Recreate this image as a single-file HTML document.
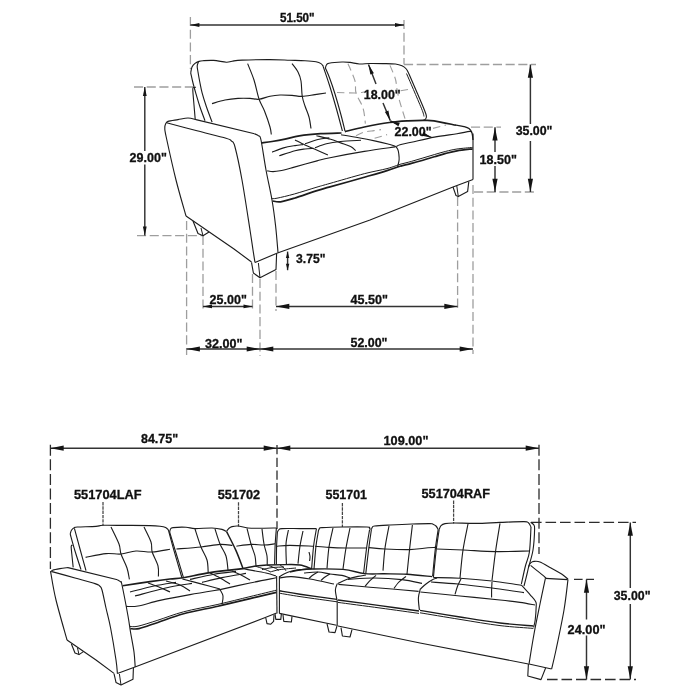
<!DOCTYPE html>
<html lang="en">
<head>
<meta charset="utf-8">
<title>Sectional sofa dimensions</title>
<style>
html,body{margin:0;padding:0;background:#fff;}
body{width:700px;height:700px;overflow:hidden;}
svg{display:block;filter:grayscale(1);}
svg path{fill:none;stroke-linecap:butt;stroke-linejoin:round;}
svg path.a{fill:#141414;stroke:none;}
svg text{font-family:"Liberation Sans",Arial,Helvetica,sans-serif;font-weight:700;fill:#101010;stroke:#101010;stroke-width:0.3px;}
</style>
</head>
<body>
<svg width="700" height="700" viewBox="0 0 700 700">
<rect width="700" height="700" fill="#ffffff"/>
<path d="M190.4 17L190.4 69" stroke="#9e9e9e" stroke-width="1.3" stroke-dasharray="9.1 3.6"/>
<path d="M404 20L404 64.5" stroke="#9e9e9e" stroke-width="1.3" stroke-dasharray="9.1 3.6"/>
<path d="M190.4 25L404 25" stroke="#333333" stroke-width="1.45"/>
<path class="a" d="M190.4 25L199.4 23.1L199.4 26.9Z"/>
<path class="a" d="M404 25L395 26.9L395 23.1Z"/>
<text transform="translate(279.95 22.2) scale(0.9804 1)" font-size="11.9">51.50&quot;</text>
<path d="M134 87L193 87" stroke="#9e9e9e" stroke-width="1.3" stroke-dasharray="9.1 3.6"/>
<path d="M137 235.6L204 235.6" stroke="#9e9e9e" stroke-width="1.3" stroke-dasharray="9.1 3.6"/>
<path d="M144.8 87L144.8 151M144.8 164.4L144.8 235.6" stroke="#333333" stroke-width="1.45"/>
<path class="a" d="M144.8 87L146.7 96L142.9 96Z"/>
<path class="a" d="M144.8 235.6L142.9 226.6L146.7 226.6Z"/>
<text transform="translate(129.62 161.8) scale(1.0246 1)" font-size="12.2">29.00&quot;</text>
<path d="M404 64.5L536 64.5" stroke="#9e9e9e" stroke-width="1.3" stroke-dasharray="9.1 3.6"/>
<path d="M474 192L536 192" stroke="#9e9e9e" stroke-width="1.3" stroke-dasharray="9.1 3.6"/>
<path d="M530.4 64.5L530.4 124M530.4 141L530.4 192" stroke="#333333" stroke-width="1.45"/>
<path class="a" d="M530.4 64.5L533 77.8L527.8 77.8Z"/>
<path class="a" d="M530.4 192L527.8 178.7L533 178.7Z"/>
<text transform="translate(515.65 134.6) scale(1.0154 1)" font-size="12.2">35.00&quot;</text>
<path d="M471 127.2L501 127.2" stroke="#9e9e9e" stroke-width="1.3" stroke-dasharray="9.1 3.6"/>
<path d="M495 127.2L495 152M495 166L495 192" stroke="#333333" stroke-width="1.45"/>
<path class="a" d="M495 127.2L497.6 140.5L492.4 140.5Z"/>
<path class="a" d="M495 192L492.4 178.7L497.6 178.7Z"/>
<text transform="translate(479.55 164) scale(1.0296 1)" font-size="12.2">18.50&quot;</text>
<path d="M186.6 221L186.6 355" stroke="#9e9e9e" stroke-width="1.3" stroke-dasharray="9.1 3.6"/>
<path d="M203 236L203 310" stroke="#9e9e9e" stroke-width="1.3" stroke-dasharray="9.1 3.6"/>
<path d="M252.5 274L252.5 310" stroke="#9e9e9e" stroke-width="1.3" stroke-dasharray="9.1 3.6"/>
<path d="M260 279L260 356" stroke="#9e9e9e" stroke-width="1.3" stroke-dasharray="9.1 3.6"/>
<path d="M276 271L276 311" stroke="#9e9e9e" stroke-width="1.3" stroke-dasharray="9.1 3.6"/>
<path d="M457.6 197L457.6 311" stroke="#9e9e9e" stroke-width="1.3" stroke-dasharray="9.1 3.6"/>
<path d="M473 185L473 354" stroke="#9e9e9e" stroke-width="1.3" stroke-dasharray="9.1 3.6"/>
<path d="M203 306.4L252.5 306.4" stroke="#333333" stroke-width="1.45"/>
<path class="a" d="M203 306.4L212 304.5L212 308.3Z"/>
<path class="a" d="M252.5 306.4L243.5 308.3L243.5 304.5Z"/>
<text transform="translate(209.62 304.3) scale(1.0246 1)" font-size="12.2">25.00&quot;</text>
<path d="M276 306.4L457.6 306.4" stroke="#333333" stroke-width="1.45"/>
<path class="a" d="M276 306.4L289.3 303.8L289.3 309Z"/>
<path class="a" d="M457.6 306.4L444.3 309L444.3 303.8Z"/>
<text transform="translate(350.55 304.2) scale(1.0324 1)" font-size="12.2">45.50&quot;</text>
<path d="M186.6 349L260 349" stroke="#333333" stroke-width="1.45"/>
<path class="a" d="M186.6 349L199.9 346.4L199.9 351.6Z"/>
<path class="a" d="M260 349L246.7 351.6L246.7 346.4Z"/>
<text transform="translate(205.05 347.6) scale(1.0324 1)" font-size="12.2">32.00&quot;</text>
<path d="M260 349L473 349" stroke="#333333" stroke-width="1.45"/>
<path class="a" d="M260 349L273.3 346.4L273.3 351.6Z"/>
<path class="a" d="M473 349L459.7 351.6L459.7 346.4Z"/>
<text transform="translate(350.53 347.2) scale(1.0189 1)" font-size="12.2">52.00&quot;</text>
<path d="M287.6 251.6L287.6 270.2" stroke="#333333" stroke-width="1.45"/>
<path class="a" d="M287.6 251.6L289.3 258.1L285.9 258.1Z"/>
<path class="a" d="M287.6 270.2L285.9 263.7L289.3 263.7Z"/>
<text transform="translate(296.06 263) scale(0.9948 1)" font-size="12.2">3.75&quot;</text>
<path d="M368.5 64.6L376 84M383 103L390.3 120.6" stroke="#333333" stroke-width="1.45"/>
<path class="a" d="M368.5 64.6L373.9 73.23L370.36 74.61Z"/>
<path class="a" d="M390.3 120.6L384.9 111.97L388.44 110.59Z"/>
<text transform="translate(363.75 98.9) scale(1.0181 1)" font-size="12.2">18.00&quot;</text>
<path d="M390.3 121L399 124.5M424.5 134.6L431.4 137.4" stroke="#333333" stroke-width="1.45"/>
<path class="a" d="M390.3 121L399.83 122.76L398.42 126.29Z"/>
<path class="a" d="M431.4 137.4L421.87 135.64L423.28 132.11Z"/>
<text transform="translate(394.53 135.7) scale(1.0217 1)" font-size="12.2">22.00&quot;</text>
<path d="M190.7 72.9C191.08 74.58 192.17 79.67 193 83C193.83 86.33 194.53 88.9 195.7 92.9C196.87 96.9 198.45 102.37 200 107C201.55 111.63 204.17 118.42 205 120.7" stroke="#1c1c1c" stroke-width="1.12"/>
<path d="M196 87.2C195.57 87.27 193.93 87.13 193.4 87.6C192.87 88.07 192.7 87.1 192.8 90C192.9 92.9 193.6 100.13 194 105C194.4 109.87 195 116.83 195.2 119.2" stroke="#1c1c1c" stroke-width="1.12"/>
<path d="M212.1 122.1C211.17 119.58 208.17 111.87 206.5 107C204.83 102.13 203.22 97.07 202.1 92.9C200.98 88.73 200.48 85.48 199.8 82C199.12 78.52 198.43 74.67 198 72C197.57 69.33 197.13 67.67 197.2 66C197.27 64.33 198.2 62.67 198.4 62" stroke="#1c1c1c" stroke-width="1.12"/>
<path d="M190.7 72.9C190.92 71.92 191.28 68.58 192 67C192.72 65.42 193.83 64.33 195 63.4C196.17 62.47 197.67 61.85 199 61.4C200.33 60.95 200.57 60.87 203 60.7C205.43 60.53 209.7 60.15 213.6 60.4C217.5 60.65 223.32 62.07 226.4 62.2C229.48 62.33 229.48 61.55 232.1 61.2C234.72 60.85 235.78 60.37 242.1 60.1C248.42 59.83 262.02 59.58 270 59.6C277.98 59.62 284.17 60.02 290 60.2C295.83 60.38 300.67 60.43 305 60.7C309.33 60.97 313.33 61.32 316 61.8C318.67 62.28 319.77 62.82 321 63.6C322.23 64.38 323 66.02 323.4 66.5" stroke="#1c1c1c" stroke-width="1.12"/>
<path d="M323.2 66.5C324.23 69.58 327.23 78.08 329.4 85C331.57 91.92 334.03 100.33 336.2 108C338.37 115.67 341.37 127.17 342.4 131" stroke="#1c1c1c" stroke-width="1.12"/>
<path d="M325.4 68C326.1 69.67 328 73.67 329.6 78C331.2 82.33 333.1 87.83 335 94C336.9 100.17 339.33 108.83 341 115C342.67 121.17 344.33 128.33 345 131" stroke="#1c1c1c" stroke-width="1.12"/>
<path d="M247.6 63.6C248.67 66.33 252.1 74.1 254 80C255.9 85.9 257.25 93.83 259 99C260.75 104.17 262.67 106.33 264.5 111C266.33 115.67 268.87 123.08 270 127C271.13 130.92 271.08 133.25 271.3 134.5" stroke="#1c1c1c" stroke-width="1.12"/>
<path d="M292 63.6C293 65 296.5 69.1 298 72C299.5 74.9 300.3 77 301 81C301.7 85 301.53 91.83 302.2 96C302.87 100.17 303.87 102.5 305 106C306.13 109.5 308 113.25 309 117C310 120.75 310.67 126.58 311 128.5" stroke="#1c1c1c" stroke-width="1.12"/>
<path d="M212 103.6C214.17 103 220.67 100.87 225 100C229.33 99.13 233.83 98.67 238 98.4C242.17 98.13 246.5 98.25 250 98.4C253.5 98.55 255.67 99.67 259 99.3C262.33 98.93 266.5 96.92 270 96.2C273.5 95.48 276.33 95.13 280 95C283.67 94.87 288.33 95.17 292 95.4C295.67 95.63 298.17 96.53 302 96.4C305.83 96.27 311 95.17 315 94.6C319 94.03 324.17 93.27 326 93" stroke="#1c1c1c" stroke-width="1.12"/>
<path d="M325.4 68C325.57 67.5 325.8 65.8 326.4 65C327 64.2 326.4 63.7 329 63.2C331.6 62.7 338.5 62.13 342 62C345.5 61.87 347.1 62.07 350 62.4C352.9 62.73 356.12 63.82 359.4 64C362.68 64.18 365.77 63.57 369.7 63.5C373.63 63.43 378.72 63.52 383 63.6C387.28 63.68 392.23 63.63 395.4 64C398.57 64.37 400.18 64.97 402 65.8C403.82 66.63 405.13 67.63 406.3 69C407.47 70.37 408.55 73.17 409 74" stroke="#1c1c1c" stroke-width="1.12"/>
<path d="M409 74C410.33 77.08 414.4 86.42 417 92.5C419.6 98.58 423.03 106.58 424.6 110.5C426.17 114.42 426.23 114.58 426.4 116C426.57 117.42 426.17 118.27 425.6 119C425.03 119.73 423.43 120.17 423 120.4" stroke="#1c1c1c" stroke-width="1.12"/>
<path d="M406.5 73.5C407.83 76.58 411.87 85.83 414.5 92C417.13 98.17 420.72 106.42 422.3 110.5C423.88 114.58 423.72 115.5 424 116.5" stroke="#1c1c1c" stroke-width="1"/>
<path d="M348 63.7C349.17 66.58 353.67 76.12 355 81C356.33 85.88 354.67 88.5 356 93C357.33 97.5 361.43 102.88 363 108C364.57 113.12 365 121.08 365.4 123.7" stroke="#9e9e9e" stroke-width="1.12" stroke-dasharray="7.5 4.5"/>
<path d="M390 65.4C390.9 67.67 394.23 75 395.4 79C396.57 83 396.28 85.67 397 89.4C397.72 93.13 398.37 96.53 399.7 101.4C401.03 106.27 404.12 115.73 405 118.6" stroke="#9e9e9e" stroke-width="1.12" stroke-dasharray="7.5 4.5"/>
<path d="M337 92.5C340.17 92.58 351.5 93.08 356 93C360.5 92.92 362.67 92.17 364 92" stroke="#9e9e9e" stroke-width="1.12" stroke-dasharray="7.5 4.5"/>
<path d="M400.6 90.8L412.6 88.6" stroke="#9e9e9e" stroke-width="1.12" stroke-dasharray="7.5 4.5"/>
<path d="M186 216C184.33 210 179.3 193.17 176 180C172.7 166.83 168.07 145.67 166.2 137C164.33 128.33 164.9 130.17 164.8 128C164.7 125.83 165.07 125.1 165.6 124C166.13 122.9 165.93 122.13 168 121.4C170.07 120.67 174.67 120.17 178 119.6C181.33 119.03 185 118 188 118C191 118 194.67 119.33 196 119.6" stroke="#1c1c1c" stroke-width="1.12"/>
<path d="M196 119.6L254.5 133.8" stroke="#1c1c1c" stroke-width="1.12"/>
<path d="M254.5 133.8C255.18 134.13 257.52 134.77 258.6 135.8C259.68 136.83 259.77 134.3 261 140C262.23 145.7 264.17 160 266 170C267.83 180 270.4 190.67 272 200C273.6 209.33 274.6 217.25 275.6 226C276.6 234.75 277.6 248.08 278 252.5" stroke="#1c1c1c" stroke-width="1.12"/>
<path d="M166.6 122.8C171.67 124.13 187.1 128.23 197 130.8C206.9 133.37 220.23 136.47 226 138.2C231.77 139.93 230.1 139.73 231.6 141.2C233.1 142.67 233.27 140.53 235 147C236.73 153.47 239.5 166.17 242 180C244.5 193.83 248.17 218.33 250 230C251.83 241.67 252.17 244.6 253 250C253.83 255.4 254.67 260.33 255 262.4" stroke="#1c1c1c" stroke-width="1.12"/>
<path d="M186 216L234 249L251.5 262" stroke="#1c1c1c" stroke-width="1.12"/>
<path d="M255 262.4L277.5 253L370 220L453 187L473 179.4" stroke="#1c1c1c" stroke-width="1.12"/>
<path d="M473 133.5L473 179.4" stroke="#1c1c1c" stroke-width="1.12"/>
<path d="M251.5 262.4L253.4 273L260 277.8L276 269.4L276.6 254" stroke="#1c1c1c" stroke-width="1.12"/>
<path d="M258.4 263L260 277.8" stroke="#1c1c1c" stroke-width="1"/>
<path d="M193 221L198 233.5L203 235.8L209 232" stroke="#1c1c1c" stroke-width="1.12"/>
<path d="M201 228L203 235.8" stroke="#1c1c1c" stroke-width="1"/>
<path d="M453 187L456 195.6L458.3 196.6L467.6 191.6L468.8 181.6" stroke="#1c1c1c" stroke-width="1.12"/>
<path d="M456.8 186L458.3 196.6" stroke="#1c1c1c" stroke-width="1"/>
<path d="M261.5 142.8C263.25 142.58 268.08 142.1 272 141.5C275.92 140.9 280.45 140.13 285 139.2C289.55 138.27 293.35 136.82 299.3 135.9C305.25 134.98 313.67 134.18 320.7 133.7C327.73 133.22 338.03 133.12 341.5 133" stroke="#1c1c1c" stroke-width="1.7"/>
<path d="M341 134.8C343.93 135.28 352.82 136.65 358.6 137.7C364.38 138.75 370.8 140.05 375.7 141.1C380.6 142.15 384.77 143.15 388 144C391.23 144.85 393.47 145.28 395.1 146.2C396.73 147.12 397.18 148.2 397.8 149.5C398.42 150.8 398.58 152.25 398.8 154C399.02 155.75 399.3 157.87 399.1 160C398.9 162.13 397.85 165.67 397.6 166.8" stroke="#1c1c1c" stroke-width="1.12"/>
<path d="M267.2 170.9C268.17 171.02 270.87 171.62 273 171.6C275.13 171.58 276.45 171.55 280 170.8C283.55 170.05 288.13 168.75 294.3 167.1C300.47 165.45 311.05 162.47 317 160.9C322.95 159.33 322.12 159.28 330 157.7C337.88 156.12 353.45 153.2 364.3 151.4C375.15 149.6 389.97 147.65 395.1 146.9" stroke="#1c1c1c" stroke-width="1.12"/>
<path d="M271.4 198.6C272.33 198.53 273.18 198.97 277 198.2C280.82 197.43 287.63 195.85 294.3 194C300.97 192.15 311.05 188.87 317 187.1C322.95 185.33 322.12 185.63 330 183.4C337.88 181.17 354.8 176.17 364.3 173.7C373.8 171.23 381.05 170.17 387 168.6C392.95 167.03 397.83 165.02 400 164.3" stroke="#1c1c1c" stroke-width="1"/>
<path d="M272.6 201C273.93 201.13 276.98 202.27 280.6 201.8C284.22 201.33 288.23 200.07 294.3 198.2C300.37 196.33 311.05 192.48 317 190.6C322.95 188.72 322.12 189.13 330 186.9C337.88 184.67 354.8 179.92 364.3 177.2C373.8 174.48 381.05 172.43 387 170.6C392.95 168.77 397.83 166.93 400 166.2" stroke="#1c1c1c" stroke-width="1.7"/>
<path d="M272.1 152.1C274.02 151.4 279.78 148.98 283.6 147.9C287.42 146.82 291.77 146.15 295 145.6C298.23 145.05 301.67 144.77 303 144.6" stroke="#1c1c1c" stroke-width="1.12"/>
<path d="M305 143.8C307.15 143.08 313.85 140.5 317.9 139.5C321.95 138.5 327.4 138.08 329.3 137.8" stroke="#1c1c1c" stroke-width="1.12"/>
<path d="M279.3 155.7C281.92 154.87 290.72 151.82 295 150.7C299.28 149.58 301.93 149.38 305 149C308.07 148.62 312 148.5 313.4 148.4" stroke="#1c1c1c" stroke-width="1.12"/>
<path d="M315 147.8C316.9 147.13 322.12 144.85 326.4 143.8C330.68 142.75 334.93 142.1 340.7 141.5C346.47 140.9 357.62 140.42 361 140.2" stroke="#1c1c1c" stroke-width="1.12"/>
<path d="M295 140C296.67 140.83 301.67 143.45 305 145C308.33 146.55 311.18 147.63 315 149.3C318.82 150.97 325.75 154.05 327.9 155" stroke="#1c1c1c" stroke-width="1.12"/>
<path d="M316.4 135.7C318.78 136.3 326.65 138.1 330.7 139.3C334.75 140.5 337.38 141.68 340.7 142.9C344.02 144.12 348.1 145.32 350.6 146.6C353.1 147.88 354.85 149.93 355.7 150.6" stroke="#1c1c1c" stroke-width="1.12"/>
<path d="M344.9 131.6C348.13 130.83 356.88 128.52 364.3 127C371.72 125.48 382.12 123.53 389.4 122.5C396.68 121.47 402.4 121.15 408 120.8C413.6 120.45 418.67 120.4 423 120.4C427.33 120.4 428.5 120 434 120.8C439.5 121.6 452.33 124.47 456 125.2" stroke="#1c1c1c" stroke-width="1.7"/>
<path d="M456 125.2C457.33 125.43 461.83 126.03 464 126.6C466.17 127.17 467.67 127.53 469 128.6C470.33 129.67 471.33 131.1 472 133C472.67 134.9 472.83 138.83 473 140" stroke="#1c1c1c" stroke-width="1.3"/>
<path d="M396.3 146.6C396.92 146.3 397.48 145.52 400 144.8C402.52 144.08 405.68 143.58 411.4 142.3C417.12 141.02 426.7 138.53 434.3 137.1C441.9 135.67 451.1 134.65 457 133.7C462.9 132.75 467.2 131.62 469.7 131.4C472.2 131.18 471.62 132.23 472 132.4" stroke="#1c1c1c" stroke-width="1.12"/>
<path d="M400 164.3C401.9 163.82 407.58 162.45 411.4 161.4C415.22 160.35 419.08 159.13 422.9 158C426.72 156.87 430.5 155.7 434.3 154.6C438.1 153.5 441.92 152.33 445.7 151.4C449.48 150.47 452.52 149.67 457 149C461.48 148.33 470 147.67 472.6 147.4" stroke="#1c1c1c" stroke-width="1"/>
<path d="M400 166.2C401.9 165.73 407.58 164.4 411.4 163.4C415.22 162.4 419.08 161.3 422.9 160.2C426.72 159.1 430.5 157.93 434.3 156.8C438.1 155.67 441.92 154.4 445.7 153.4C449.48 152.4 452.52 151.57 457 150.8C461.48 150.03 470 149.13 472.6 148.8" stroke="#1c1c1c" stroke-width="1.7"/>
<path d="M356 135.6C357.33 135.03 361 133.03 364 132.2C367 131.37 371.17 131.03 374 130.6C376.83 130.17 379.83 129.77 381 129.6" stroke="#9e9e9e" stroke-width="1.12" stroke-dasharray="7.5 4.5"/>
<path d="M374.6 138.3L387.1 134.6" stroke="#9e9e9e" stroke-width="1.12" stroke-dasharray="7.5 4.5"/>
<path d="M433 128.4L446 125" stroke="#9e9e9e" stroke-width="1.12" stroke-dasharray="7.5 4.5"/>
<path d="M50.4 444.7L50.4 569" stroke="#2c2c2c" stroke-width="1.3" stroke-dasharray="11 3.6"/>
<path d="M277 445L277 529" stroke="#2c2c2c" stroke-width="1.3" stroke-dasharray="9.3 3.4"/>
<path d="M539 444.7L539 554" stroke="#2c2c2c" stroke-width="1.3" stroke-dasharray="11 3.6"/>
<path d="M50.4 448.2L277 448.2" stroke="#333333" stroke-width="1.45"/>
<path class="a" d="M50.4 448.2L63.7 445.6L63.7 450.8Z"/>
<path class="a" d="M277 448.2L263.7 450.8L263.7 445.6Z"/>
<path d="M277 448.2L539 448.2" stroke="#333333" stroke-width="1.45"/>
<path class="a" d="M277 448.2L290.3 445.6L290.3 450.8Z"/>
<path class="a" d="M539 448.2L525.7 450.8L525.7 445.6Z"/>
<text transform="translate(140.93 442.6) scale(0.9921 1)" font-size="12.6">84.75&quot;</text>
<text transform="translate(383.54 445) scale(1.0101 1)" font-size="12.6">109.00&quot;</text>
<text transform="translate(73.92 498.9) scale(1.0096 1)" font-size="12.7">551704LAF</text>
<text transform="translate(217.72 498.6) scale(1.0017 1)" font-size="12.7">551702</text>
<text transform="translate(325.53 499.4) scale(0.9795 1)" font-size="12.7">551701</text>
<text transform="translate(421.52 498) scale(1.0016 1)" font-size="12.7">551704RAF</text>
<path d="M103 502L103 525.5" stroke="#444444" stroke-width="1.25" stroke-dasharray="3.4 0.9"/>
<path d="M238.5 502.3L238.5 526.5" stroke="#444444" stroke-width="1.25" stroke-dasharray="3.4 0.9"/>
<path d="M342.4 503L342.4 527" stroke="#444444" stroke-width="1.25" stroke-dasharray="3.4 0.9"/>
<path d="M453.6 500.5L453.6 523.5" stroke="#444444" stroke-width="1.25" stroke-dasharray="3.4 0.9"/>
<path d="M531 522.4L636 522.4" stroke="#2c2c2c" stroke-width="1.3" stroke-dasharray="10.6 3.9"/>
<path d="M574 579.4L594 579.4" stroke="#2c2c2c" stroke-width="1.3" stroke-dasharray="8.6 3.6"/>
<path d="M547 679.5L636 679.5" stroke="#2c2c2c" stroke-width="1.3" stroke-dasharray="10.6 3.9"/>
<path d="M630.3 522.4L630.3 588M630.3 604L630.3 679.5" stroke="#333333" stroke-width="1.45"/>
<path class="a" d="M630.3 522.4L632.9 535.7L627.7 535.7Z"/>
<path class="a" d="M630.3 679.5L627.7 666.2L632.9 666.2Z"/>
<text transform="translate(613.75 599.7) scale(0.9804 1)" font-size="12.6">35.00&quot;</text>
<path d="M586.5 579.4L586.5 619.5M586.5 635.5L586.5 679.5" stroke="#333333" stroke-width="1.45"/>
<path class="a" d="M586.5 579.4L589.1 592.7L583.9 592.7Z"/>
<path class="a" d="M586.5 679.5L583.9 666.2L589.1 666.2Z"/>
<text transform="translate(567.62 634) scale(1.0114 1)" font-size="12.6">24.00&quot;</text>
<path d="M67 640C65.17 633.33 58.67 611 56 600C53.33 589 51.83 578.67 51 574C50.17 569.33 50.73 572.63 51 572C51.27 571.37 51.1 570.77 52.6 570.2C54.1 569.63 57.43 569.03 60 568.6C62.57 568.17 66.67 567.77 68 567.6" stroke="#1c1c1c" stroke-width="1.12"/>
<path d="M68 567.6L117.5 579.8" stroke="#1c1c1c" stroke-width="1.12"/>
<path d="M117.5 579.8C118.02 580.13 119.85 580.93 120.6 581.8C121.35 582.67 120.77 579.3 122 585C123.23 590.7 126.58 608.17 128 616C129.42 623.83 129.5 626 130.5 632C131.5 638 133.22 646.17 134 652C134.78 657.83 135 664.5 135.2 667" stroke="#1c1c1c" stroke-width="1.12"/>
<path d="M52 571.6C55.83 572.67 67.83 576 75 578C82.17 580 90.9 582.27 95 583.6C99.1 584.93 98.43 584.93 99.6 586C100.77 587.07 100.93 586.33 102 590C103.07 593.67 104.57 601.67 106 608C107.43 614.33 108.93 619.33 110.6 628C112.27 636.67 114.87 652.4 116 660C117.13 667.6 117.17 671.33 117.4 673.6" stroke="#1c1c1c" stroke-width="1.12"/>
<path d="M67 640L96 660L114 673.4" stroke="#1c1c1c" stroke-width="1.12"/>
<path d="M114 673.6L116 682.4L121 685L133 679.2L133.4 668" stroke="#1c1c1c" stroke-width="1.12"/>
<path d="M119.4 674L121 685" stroke="#1c1c1c" stroke-width="1"/>
<path d="M71.4 644L75 653L79 654.6L83.4 651.6" stroke="#1c1c1c" stroke-width="1.12"/>
<path d="M77.5 648L79 654.6" stroke="#1c1c1c" stroke-width="1"/>
<path d="M117.4 673.6L135 667L264 618L276.6 613" stroke="#1c1c1c" stroke-width="1.12"/>
<path d="M70.2 534C71 536.83 73.2 545.07 75 551C76.8 556.93 80 566.5 81 569.6" stroke="#1c1c1c" stroke-width="1.12"/>
<path d="M74.4 528.4C75.33 531.83 78.07 541.97 80 549C81.93 556.03 85 567 86 570.6" stroke="#1c1c1c" stroke-width="1.12"/>
<path d="M72.5 545C72.28 545.27 71.28 544.77 71.2 546.6C71.12 548.43 71.67 552.53 72 556C72.33 559.47 73 565.5 73.2 567.4" stroke="#1c1c1c" stroke-width="1.12"/>
<path d="M70.2 534C70.43 533.33 70.87 531.07 71.6 530C72.33 528.93 73.53 528.1 74.6 527.6C75.67 527.1 74.43 527.2 78 527C81.57 526.8 91.83 526.68 96 526.4C100.17 526.12 98.17 525.47 103 525.3C107.83 525.13 117.17 525.35 125 525.4C132.83 525.45 144.17 525.47 150 525.6C155.83 525.73 157.4 525.9 160 526.2C162.6 526.5 164.2 526.77 165.6 527.4C167 528.03 167.93 529.57 168.4 530" stroke="#1c1c1c" stroke-width="1.12"/>
<path d="M168.4 530C169.33 533.43 171.73 542.6 174 550.6C176.27 558.6 180.67 573.43 182 578" stroke="#1c1c1c" stroke-width="1.12"/>
<path d="M169.6 532C170.67 535.5 173.7 545.43 176 553C178.3 560.57 182.17 573.33 183.4 577.4" stroke="#1c1c1c" stroke-width="1.12"/>
<path d="M111 527C112.33 529.83 117.33 539.5 119 544C120.67 548.5 119.67 550 121 554C122.33 558 125.6 563.77 127 568C128.4 572.23 129 577.5 129.4 579.4" stroke="#1c1c1c" stroke-width="1.12"/>
<path d="M144 527C145.17 529.5 149.63 537.83 151 542C152.37 546.17 151.03 548 152.2 552C153.37 556 156.97 561.93 158 566C159.03 570.07 158.33 574.67 158.4 576.4" stroke="#1c1c1c" stroke-width="1.12"/>
<path d="M85.6 557.4C89 556.77 100.1 554.17 106 553.6C111.9 553.03 116 554.43 121 554C126 553.57 130.8 551.33 136 551C141.2 550.67 146.53 552.3 152.2 552C157.87 551.7 167.03 549.67 170 549.2" stroke="#1c1c1c" stroke-width="1.12"/>
<path d="M169.6 532C169.77 531.5 170.03 529.73 170.6 529C171.17 528.27 170.43 527.9 173 527.6C175.57 527.3 182.33 527.03 186 527.2C189.67 527.37 190.67 528.47 195 528.6C199.33 528.73 207.5 527.87 212 528C216.5 528.13 219.57 528.8 222 529.4C224.43 530 225.83 531.23 226.6 531.6" stroke="#1c1c1c" stroke-width="1.12"/>
<path d="M226.6 531.6C228.17 534.77 233.27 544.47 236 550.6C238.73 556.73 241.83 565.43 243 568.4" stroke="#1c1c1c" stroke-width="1.5"/>
<path d="M195 529C196 532 199 541.83 201 547C203 552.17 205.8 555.73 207 560C208.2 564.27 208 570.5 208.2 572.6" stroke="#1c1c1c" stroke-width="1.12"/>
<path d="M215 529C215.83 531.5 218.17 539.5 220 544C221.83 548.5 224.67 551.67 226 556C227.33 560.33 227.67 567.67 228 570" stroke="#1c1c1c" stroke-width="1.12"/>
<path d="M176.4 549C180.5 548.67 193.73 547.77 201 547C208.27 546.23 214.77 544.67 220 544.4C225.23 544.13 230.33 545.23 232.4 545.4" stroke="#1c1c1c" stroke-width="1.12"/>
<path d="M226.8 531C227.17 530.53 228.13 528.93 229 528.2C229.87 527.47 230.5 526.97 232 526.6C233.5 526.23 235.33 525.77 238 526C240.67 526.23 244 527.63 248 528C252 528.37 257.27 528.2 262 528.2C266.73 528.2 274 528.03 276.4 528" stroke="#1c1c1c" stroke-width="1.12"/>
<path d="M247 528.4C247.67 531 249.67 539.4 251 544C252.33 548.6 254.17 552.33 255 556C255.83 559.67 255.83 564.33 256 566" stroke="#1c1c1c" stroke-width="1.12"/>
<path d="M262 529C262.33 531.5 263.17 539.5 264 544C264.83 548.5 266.47 552.57 267 556C267.53 559.43 267.17 563.17 267.2 564.6" stroke="#1c1c1c" stroke-width="1.12"/>
<path d="M236.4 546.2C238.83 545.9 246.4 544.6 251 544.4C255.6 544.2 260 545.1 264 545C268 544.9 273.17 544 275 543.8" stroke="#1c1c1c" stroke-width="1.12"/>
<path d="M276.4 528C276.2 530.67 275.5 537.9 275.2 544C274.9 550.1 274.7 561.17 274.6 564.6" stroke="#1c1c1c" stroke-width="1.12"/>
<path d="M277.4 532C277.27 534.33 276.77 540.57 276.6 546C276.43 551.43 276.43 561.5 276.4 564.6" stroke="#1c1c1c" stroke-width="1.12"/>
<path d="M277.4 532C277.67 531.6 278.23 530.17 279 529.6C279.77 529.03 278.5 528.77 282 528.6C285.5 528.43 294.23 528.6 300 528.6C305.77 528.6 313.83 528.6 316.6 528.6" stroke="#1c1c1c" stroke-width="1.12"/>
<path d="M288.4 530C288 532.33 286.33 538.33 286 544C285.67 549.67 286.33 560.67 286.4 564" stroke="#1c1c1c" stroke-width="1.12"/>
<path d="M303 531C302.5 533.5 300.83 540.57 300 546C299.17 551.43 298.33 560.67 298 563.6" stroke="#1c1c1c" stroke-width="1.12"/>
<path d="M276.6 546.2C278.83 546.07 283.77 545.4 290 545.4C296.23 545.4 310 546.07 314 546.2" stroke="#1c1c1c" stroke-width="1.12"/>
<path d="M309 552C309.17 552.75 309.9 555 310 556.5C310.1 558 309.67 560.25 309.6 561" stroke="#1c1c1c" stroke-width="1.12"/>
<path d="M316.4 529C315.93 531.83 314.4 539.33 313.6 546C312.8 552.67 311.93 565.17 311.6 569" stroke="#1c1c1c" stroke-width="1.12"/>
<path d="M318.6 530C318.8 529.7 319.23 528.6 319.8 528.2C320.37 527.8 318.3 527.8 322 527.6C325.7 527.4 334.5 527.1 342 527C349.5 526.9 362.43 526.83 367 527C371.57 527.17 368.83 527.57 369.4 528C369.97 528.43 370.23 529.33 370.4 529.6" stroke="#1c1c1c" stroke-width="1.12"/>
<path d="M318.6 530C318.17 532.67 316.77 539.47 316 546C315.23 552.53 314.33 565.33 314 569.2" stroke="#1c1c1c" stroke-width="1.12"/>
<path d="M369.6 529.6C369.1 532.67 367.6 540.7 366.6 548C365.6 555.3 364.1 569.17 363.6 573.4" stroke="#1c1c1c" stroke-width="1.12"/>
<path d="M333 528C332.33 531.17 330 540.27 329 547C328 553.73 327.33 564.83 327 568.4" stroke="#1c1c1c" stroke-width="1.12"/>
<path d="M350 528C349.33 531.33 347.17 541.2 346 548C344.83 554.8 343.5 565.33 343 568.8" stroke="#1c1c1c" stroke-width="1.12"/>
<path d="M315 546.2C317.33 546.4 323.83 547.1 329 547.4C334.17 547.7 339.67 547.9 346 548C352.33 548.1 363.5 548 367 548" stroke="#1c1c1c" stroke-width="1.12"/>
<path d="M371.4 529.6C371.57 529.2 371.87 527.8 372.4 527.2C372.93 526.6 371.67 526.37 374.6 526C377.53 525.63 383.77 525.33 390 525C396.23 524.67 405.33 524.23 412 524C418.67 523.77 426.5 523.57 430 523.6C433.5 523.63 432 523.8 433 524.2C434 524.6 435.13 525.13 436 526C436.87 526.87 437.83 528.83 438.2 529.4" stroke="#1c1c1c" stroke-width="1.12"/>
<path d="M371.4 529.6C370.97 532.67 369.73 540.7 368.8 548C367.87 555.3 366.3 569.17 365.8 573.4" stroke="#1c1c1c" stroke-width="1.12"/>
<path d="M438.2 529.4C437.7 532.83 436.13 542.17 435.2 550C434.27 557.83 433.03 572 432.6 576.4" stroke="#1c1c1c" stroke-width="1.12"/>
<path d="M389 526C388.33 529.67 386 540.57 385 548C384 555.43 383.33 566.83 383 570.6" stroke="#1c1c1c" stroke-width="1.12"/>
<path d="M412.4 525C411.93 529 410.5 540.83 409.6 549C408.7 557.17 407.43 569.83 407 574" stroke="#1c1c1c" stroke-width="1.12"/>
<path d="M368.8 547.6C371.5 547.83 378.2 548.67 385 549C391.8 549.33 403.1 549.73 409.6 549.6C416.1 549.47 419.73 548.57 424 548.2C428.27 547.83 433.33 547.53 435.2 547.4" stroke="#1c1c1c" stroke-width="1.12"/>
<path d="M439.2 529.4C439.5 528.77 440.03 526.57 441 525.6C441.97 524.63 442.83 524.03 445 523.6C447.17 523.17 448.83 523.03 454 523C459.17 522.97 468.33 523.5 476 523.4C483.67 523.3 492 522.7 500 522.4C508 522.1 519.27 521.53 524 521.6C528.73 521.67 527.23 521.9 528.4 522.8C529.57 523.7 530.57 526.3 531 527" stroke="#1c1c1c" stroke-width="1.12"/>
<path d="M439.2 529.4C438.7 532.83 437.17 542 436.2 550C435.23 558 433.87 572.83 433.4 577.4" stroke="#1c1c1c" stroke-width="1.12"/>
<path d="M531 527C530.73 531.17 530.33 545.5 529.4 552C528.47 558.5 526.73 560.67 525.4 566C524.07 571.33 522.07 581 521.4 584" stroke="#1c1c1c" stroke-width="1.12"/>
<path d="M530.6 522.4C531.1 522.77 532.93 523.5 533.6 524.6C534.27 525.7 534.7 524.77 534.6 529C534.5 533.23 534 543.67 533 550C532 556.33 529.33 564.17 528.6 567" stroke="#1c1c1c" stroke-width="1.12"/>
<path d="M468 524C467.17 528.33 464.33 541 463 550C461.67 559 460.5 573.33 460 578" stroke="#1c1c1c" stroke-width="1.12"/>
<path d="M500 523.4C499.27 528 496.93 541.5 495.6 551C494.27 560.5 492.6 575.5 492 580.4" stroke="#1c1c1c" stroke-width="1.12"/>
<path d="M437 549C441.33 549.17 453.23 549.57 463 550C472.77 550.43 484.53 551.43 495.6 551.6C506.67 551.77 523.77 551.1 529.4 551" stroke="#1c1c1c" stroke-width="1.12"/>
<path d="M433.4 577.6C437.83 577.7 450.23 577.63 460 578.2C469.77 578.77 481.67 579.8 492 581C502.33 582.2 517 584.67 522 585.4" stroke="#1c1c1c" stroke-width="1.12"/>
<path d="M122.6 585.8C127.17 585.1 142.1 582.73 150 581.6C157.9 580.47 164.5 579.63 170 579C175.5 578.37 176.33 578.87 183 577.8C189.67 576.73 200 574.13 210 572.6C220 571.07 237.5 569.27 243 568.6" stroke="#1c1c1c" stroke-width="1.6"/>
<path d="M182.4 579C185.33 579.77 193.73 581.93 200 583.6C206.27 585.27 216.67 588.1 220 589" stroke="#1c1c1c" stroke-width="1.12"/>
<path d="M126 606.4C128 606.33 132.33 607 138 606C143.67 605 151.33 602.3 160 600.4C168.67 598.5 180 596.4 190 594.6C200 592.8 215 590.43 220 589.6" stroke="#1c1c1c" stroke-width="1.12"/>
<path d="M220 589.6C220.5 590.67 222.67 593.53 223 596C223.33 598.47 222.17 603 222 604.4" stroke="#1c1c1c" stroke-width="1.12"/>
<path d="M130 626.4C131.33 626.37 133.35 627.23 138 626.2C142.65 625.17 150.3 622.6 157.9 620.2C165.5 617.8 173.6 614.43 183.6 611.8C193.6 609.17 206.83 606.93 217.9 604.4C228.97 601.87 240.25 598.97 250 596.6C259.75 594.23 272 591.27 276.4 590.2" stroke="#1c1c1c" stroke-width="1"/>
<path d="M130.4 628.6C131.83 628.6 134.42 629.63 139 628.6C143.58 627.57 150.47 624.87 157.9 622.4C165.33 619.93 173.6 616.5 183.6 613.8C193.6 611.1 206.83 608.73 217.9 606.2C228.97 603.67 240.25 600.9 250 598.6C259.75 596.3 272 593.43 276.4 592.4" stroke="#1c1c1c" stroke-width="1.6"/>
<path d="M130 592C134 591 146.33 587.6 154 586C161.67 584.4 172.33 583 176 582.4" stroke="#1c1c1c" stroke-width="1.12"/>
<path d="M135 596C140.83 594.5 160.5 589.1 170 587C179.5 584.9 188.33 584 192 583.4" stroke="#1c1c1c" stroke-width="1.12"/>
<path d="M148 583C150 583.73 156.33 585.9 160 587.4C163.67 588.9 168.33 591.23 170 592" stroke="#1c1c1c" stroke-width="1.12"/>
<path d="M166 581C168.33 581.67 176 583.33 180 585C184 586.67 188.33 590 190 591" stroke="#1c1c1c" stroke-width="1.12"/>
<path d="M243 568.8C246.83 569.5 260.5 571.8 266 573C271.5 574.2 274.33 575.5 276 576" stroke="#1c1c1c" stroke-width="1.12"/>
<path d="M220 589.6C225 588.5 240.67 584.97 250 583C259.33 581.03 271.67 578.67 276 577.8" stroke="#1c1c1c" stroke-width="1.12"/>
<path d="M190 579.4C194 578.53 206.33 575.53 214 574.2C221.67 572.87 232.33 571.87 236 571.4" stroke="#1c1c1c" stroke-width="1.12"/>
<path d="M202 582.4C205.33 581.6 214.67 579.1 222 577.6C229.33 576.1 242 574.1 246 573.4" stroke="#1c1c1c" stroke-width="1.12"/>
<path d="M210 573C211.67 573.83 216.67 576.17 220 578C223.33 579.83 228.33 583 230 584" stroke="#1c1c1c" stroke-width="1.12"/>
<path d="M232 571C233.67 571.73 239 573.9 242 575.4C245 576.9 248.67 579.23 250 580" stroke="#1c1c1c" stroke-width="1.12"/>
<path d="M243 568.6C245.17 568.17 252 566.6 256 566C260 565.4 262 565.23 267 565C272 564.77 280.5 564.6 286 564.6C291.5 564.6 295.77 564.33 300 565C304.23 565.67 309.5 568 311.4 568.6" stroke="#1c1c1c" stroke-width="1.4"/>
<path d="M311.4 568.6C309.5 568.77 303.4 569.17 300 569.6C296.6 570.03 293.67 570.47 291 571.2C288.33 571.93 286 573.03 284 574C282 574.97 279.83 576.5 279 577" stroke="#1c1c1c" stroke-width="1.12"/>
<path d="M256 566.4C257.33 566.83 261.67 568.13 264 569C266.33 569.87 269 571.17 270 571.6" stroke="#1c1c1c" stroke-width="1"/>
<path d="M267 565C268.17 565.43 272 566.7 274 567.6C276 568.5 278.17 569.93 279 570.4" stroke="#1c1c1c" stroke-width="1"/>
<path d="M262 569.6C263.67 569.27 268.33 568.03 272 567.6C275.67 567.17 282 567.1 284 567" stroke="#1c1c1c" stroke-width="1"/>
<path d="M270 572C271.67 571.6 275.67 570.27 280 569.6C284.33 568.93 293.33 568.27 296 568" stroke="#1c1c1c" stroke-width="1"/>
<path d="M280 565C280.67 565.5 283 567 284 568C285 569 285.67 570.5 286 571" stroke="#1c1c1c" stroke-width="1"/>
<path d="M276.6 576L277 613.4" stroke="#1c1c1c" stroke-width="1.12"/>
<path d="M279.4 577L279.4 613.4" stroke="#1c1c1c" stroke-width="1.12"/>
<path d="M279.4 578C281.4 577.77 286.3 576.43 291.4 576.6C296.5 576.77 302.9 577.77 310 579C317.1 580.23 330 583.17 334 584" stroke="#1c1c1c" stroke-width="1.12"/>
<path d="M290 572C291.67 571.67 296.33 570.5 300 570C303.67 569.5 304.83 569.1 312 569C319.17 568.9 334.23 568.63 343 569.4C351.77 570.17 357.77 572.87 364.6 573.6C371.43 574.33 376.93 573.7 384 573.8C391.07 573.9 399 573.73 407 574.2C415 574.67 427.83 576.2 432 576.6" stroke="#1c1c1c" stroke-width="1.4"/>
<path d="M337.4 583.4C337.07 584.5 335.47 587.23 335.4 590C335.33 592.77 336.73 598.33 337 600" stroke="#1c1c1c" stroke-width="1.12"/>
<path d="M279.4 590.8C282.83 591.37 290.4 592.77 300 594.2C309.6 595.63 330.83 598.53 337 599.4" stroke="#1c1c1c" stroke-width="1.4"/>
<path d="M279.4 593.2C282.83 593.77 290.4 595.17 300 596.6C309.6 598.03 330.83 600.93 337 601.8" stroke="#1c1c1c" stroke-width="1"/>
<path d="M309 578.4C309.67 577.83 311.5 576.07 313 575C314.5 573.93 317.17 572.5 318 572" stroke="#1c1c1c" stroke-width="1.12"/>
<path d="M321 580.4C321.67 579.83 323.5 578.07 325 577C326.5 575.93 329.17 574.5 330 574" stroke="#1c1c1c" stroke-width="1.12"/>
<path d="M304 573C306.33 572.83 313.67 571.83 318 572C322.33 572.17 326 573.43 330 574C334 574.57 338.67 574.73 342 575.4C345.33 576.07 348.67 577.57 350 578" stroke="#1c1c1c" stroke-width="1.12"/>
<path d="M338 583.4C339.67 582.67 344.67 580.17 348 579C351.33 577.83 355 577.07 358 576.4C361 575.73 364.67 575.23 366 575" stroke="#1c1c1c" stroke-width="1.12"/>
<path d="M338.4 584.4C343.67 584.87 360.57 586.4 370 587.2C379.43 588 386.9 588.5 395 589.2C403.1 589.9 414.67 591.03 418.6 591.4" stroke="#1c1c1c" stroke-width="1.12"/>
<path d="M420.4 588.6C420.07 590.17 418.57 594.43 418.4 598C418.23 601.57 419.23 608 419.4 610" stroke="#1c1c1c" stroke-width="1.12"/>
<path d="M338 600C345 600.93 366.5 603.77 380 605.6C393.5 607.43 412.5 610.1 419 611" stroke="#1c1c1c" stroke-width="1.4"/>
<path d="M338 602.4C345 603.33 366.5 606.17 380 608C393.5 609.83 412.5 612.5 419 613.4" stroke="#1c1c1c" stroke-width="1"/>
<path d="M365 586.4C365.67 585.6 367.67 583 369 581.6C370.33 580.2 371.83 579.03 373 578C374.17 576.97 375.5 575.83 376 575.4" stroke="#1c1c1c" stroke-width="1.12"/>
<path d="M394 588.4C394.67 587.5 396.67 584.5 398 583C399.33 581.5 400.67 580.5 402 579.4C403.33 578.3 405.33 576.9 406 576.4" stroke="#1c1c1c" stroke-width="1.12"/>
<path d="M348 579.4C352.33 579.17 365 577.97 374 578C383 578.03 394 578.7 402 579.6C410 580.5 418.67 582.77 422 583.4" stroke="#1c1c1c" stroke-width="1.12"/>
<path d="M420.4 589C421.33 588.17 424.07 585.5 426 584C427.93 582.5 430.17 581 432 580C433.83 579 436.17 578.33 437 578" stroke="#1c1c1c" stroke-width="1.12"/>
<path d="M420.4 592C427 592.67 446.73 594.67 460 596C473.27 597.33 490 598.93 500 600C510 601.07 514.17 601.57 520 602.4C525.83 603.23 532.5 604.57 535 605" stroke="#1c1c1c" stroke-width="1.12"/>
<path d="M522 585.6C523.33 587.1 527.73 591.97 530 594.6C532.27 597.23 534.57 599.5 535.6 601.4C536.63 603.3 536.27 602.9 536.2 606C536.13 609.1 535.63 616.43 535.2 620C534.77 623.57 533.87 626.17 533.6 627.4" stroke="#1c1c1c" stroke-width="1.12"/>
<path d="M420 610.4C426.67 611.5 446.67 614.9 460 617C473.33 619.1 487.77 621.5 500 623C512.23 624.5 527.83 625.5 533.4 626" stroke="#1c1c1c" stroke-width="1.4"/>
<path d="M420 612.8C426.67 613.9 446.67 617.27 460 619.4C473.33 621.53 487.77 624.1 500 625.6C512.23 627.1 527.83 627.93 533.4 628.4" stroke="#1c1c1c" stroke-width="1"/>
<path d="M431 582C435.5 582.33 447.83 583 458 584C468.17 585 481 586.57 492 588C503 589.43 518.67 591.83 524 592.6" stroke="#1c1c1c" stroke-width="1.12"/>
<path d="M461 579C460.43 580.17 458.6 583.43 457.6 586C456.6 588.57 455.43 593 455 594.4" stroke="#1c1c1c" stroke-width="1.12"/>
<path d="M492 582C491.93 583.33 491.67 587.43 491.6 590C491.53 592.57 491.6 596.17 491.6 597.4" stroke="#1c1c1c" stroke-width="1.12"/>
<path d="M337.2 600L337.2 626" stroke="#1c1c1c" stroke-width="1.12"/>
<path d="M279.4 613.4L336.6 625.2" stroke="#1c1c1c" stroke-width="1.12"/>
<path d="M338 626L420 643L528.4 664" stroke="#1c1c1c" stroke-width="1.12"/>
<path d="M265.8 618L267 623.6L270.8 624.2L273.6 621.4L274 615" stroke="#1c1c1c" stroke-width="1.12"/>
<path d="M275 613.8L275.8 619.4L280.8 619.4L281.4 613.8" stroke="#1c1c1c" stroke-width="1.12"/>
<path d="M283 615L283.8 621.4L291.4 622L292 616.4" stroke="#1c1c1c" stroke-width="1.12"/>
<path d="M327 623.6L329 632L335 632.6L337 626" stroke="#1c1c1c" stroke-width="1.12"/>
<path d="M341 627.6L342.4 636L350 637L352 629.6" stroke="#1c1c1c" stroke-width="1.12"/>
<path d="M528.4 664L527.8 676L541 679.6L545.6 668" stroke="#1c1c1c" stroke-width="1.12"/>
<path d="M524 586C524.5 584 526.17 577.4 527 574C527.83 570.6 528.33 567.5 529 565.6C529.67 563.7 530.17 563.3 531 562.6C531.83 561.9 532.5 561.5 534 561.4C535.5 561.3 537.17 560.9 540 562C542.83 563.1 547.33 565.97 551 568C554.67 570.03 559.17 572.33 562 574.2C564.83 576.07 567 578.37 568 579.2" stroke="#1c1c1c" stroke-width="1.12"/>
<path d="M530.6 565.4C531.67 566.27 534.93 568.93 537 570.6C539.07 572.27 541.5 574.13 543 575.4C544.5 576.67 545.5 577.73 546 578.2" stroke="#1c1c1c" stroke-width="1.12"/>
<path d="M545.4 578.4L567.6 579.6" stroke="#1c1c1c" stroke-width="1.12"/>
<path d="M545.4 578.4C544.5 582.67 541.9 594.73 540 604C538.1 613.27 535.83 624 534 634C532.17 644 529.83 659 529 664" stroke="#1c1c1c" stroke-width="1.12"/>
<path d="M568 579.4C567.33 584.5 566 598.23 564 610C562 621.77 558.07 640.17 556 650C553.93 659.83 552.33 665.83 551.6 669" stroke="#1c1c1c" stroke-width="1.12"/>
<path d="M529 664L551.6 669" stroke="#1c1c1c" stroke-width="1.12"/>
</svg>
</body>
</html>
